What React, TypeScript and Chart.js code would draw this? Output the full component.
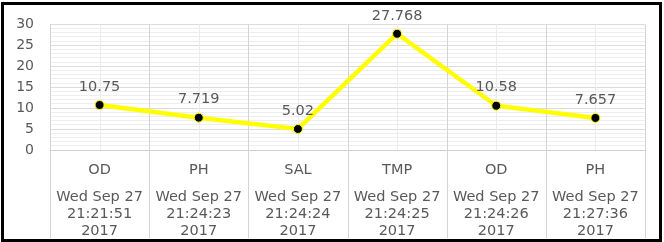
import React, { useEffect, useRef } from "react";
import { Chart, registerables } from "chart.js";

Chart.register(...registerables);

const categories = ["OD", "PH", "SAL", "TMP", "OD", "PH"];
const dates = ["Wed Sep 27", "Wed Sep 27", "Wed Sep 27", "Wed Sep 27", "Wed Sep 27", "Wed Sep 27"];
const times = ["21:21:51", "21:24:23", "21:24:24", "21:24:25", "21:24:26", "21:27:36"];
const years = ["2017", "2017", "2017", "2017", "2017", "2017"];
const values = [10.75, 7.719, 5.02, 27.768, 10.58, 7.657];
const valueLabels = ["10.75", "7.719", "5.02", "27.768", "10.58", "7.657"];

const FONT = "'DejaVu Sans', sans-serif";
const TEXT = "#595959";

const gridPlugin = {
  id: "excelGrid",
  beforeDatasetsDraw(chart: any) {
    const { ctx, chartArea } = chart;
    const xs = chart.scales.x;
    const n = categories.length;
    const w = (chartArea.right - chartArea.left) / n;
    ctx.save();
    ctx.lineWidth = 1;
    ctx.strokeStyle = "#ebebeb";
    for (let i = 0; i < n; i++) {
      const x = Math.round(xs.getPixelForValue(i)) + 0.5;
      ctx.beginPath();
      ctx.moveTo(x, chartArea.top);
      ctx.lineTo(x, chartArea.bottom);
      ctx.stroke();
    }
    ctx.strokeStyle = "#d4d4d4";
    for (let i = 0; i <= n; i++) {
      const x = Math.round(chartArea.left + i * w) + 0.5;
      ctx.beginPath();
      ctx.moveTo(x, chartArea.top);
      ctx.lineTo(x, 238);
      ctx.stroke();
    }
    ctx.restore();
  },
};

const labelPlugin = {
  id: "valueLabels",
  afterDatasetsDraw(chart: any) {
    const { ctx } = chart;
    const meta = chart.getDatasetMeta(0);
    ctx.save();
    ctx.font = `14.5px ${FONT}`;
    ctx.fillStyle = TEXT;
    ctx.textAlign = "center";
    ctx.textBaseline = "middle";
    meta.data.forEach((pt: any, i: number) => {
      ctx.fillText(valueLabels[i], pt.x, pt.y - 18);
    });
    ctx.restore();
  },
};

export default function App() {
  const ref = useRef<HTMLCanvasElement>(null);
  useEffect(() => {
    document.body.style.margin = "0";
    const chart = new Chart(ref.current!, {
      type: "line",
      data: {
        labels: categories,
        datasets: [
          {
            data: values,
            borderColor: "#ffff00",
            borderWidth: 4.5,
            pointRadius: 4.5,
            pointBackgroundColor: "#000000",
            pointBorderColor: "#ffff00",
            pointBorderWidth: 1,
            tension: 0,
            xAxisID: "x",
          },
        ],
      },
      options: {
        responsive: false,
        animation: false,
        layout: { padding: { left: 0, right: 19, top: 20, bottom: 3 } },
        plugins: { legend: { display: false }, tooltip: { enabled: false } },
        scales: {
          x: {
            type: "category",
            offset: true,
            position: "bottom",
            grid: { display: false, drawTicks: false },
            border: { display: false },
            ticks: {
              color: TEXT,
              font: { family: FONT, size: 14.5 },
              padding: 12,
              maxRotation: 0,
              autoSkip: false,
            },
            afterFit(s: any) {
              s.height = 33;
            },
          },
          x2: {
            type: "category",
            labels: dates.map((d, i) => [d, times[i], years[i]]),
            offset: true,
            position: "bottom",
            grid: { display: false, drawTicks: false },
            border: { display: false },
            ticks: {
              color: TEXT,
              font: { family: FONT, size: 14.5, lineHeight: 17 / 14.5 },
              padding: 6,
              maxRotation: 0,
              autoSkip: false,
            },
            afterFit(s: any) {
              s.height = 56;
            },
          },
          y: {
            min: 0,
            max: 30,
            border: { display: false },
            grid: {
              drawTicks: false,
              color: (c: any) =>
                c.tick && c.tick.value === 0
                  ? "#d0d0d0"
                  : c.tick && c.tick.value % 5 === 0
                  ? "#dcdcdc"
                  : "#eeeeee",
            },
            ticks: {
              stepSize: 1,
              color: TEXT,
              font: { family: FONT, size: 14 },
              padding: 16,
              autoSkip: false,
              callback: (v: any) => (Number(v) % 5 === 0 ? String(v) : ""),
            },
            afterFit(s: any) {
              s.width = 50;
            },
          },
        },
      },
      plugins: [gridPlugin, labelPlugin],
    } as any);
    return () => chart.destroy();
  }, []);
  return (
    <div style={{ position: "relative", width: 664, height: 242, background: "#fff" }}>
      <canvas ref={ref} width={664} height={242} style={{ display: "block" }} />
      <div
        style={{
          position: "absolute",
          left: 1,
          top: 2,
          width: 661,
          height: 240,
          border: "3px solid #000",
          boxSizing: "border-box",
          pointerEvents: "none",
        }}
      />
    </div>
  );
}
